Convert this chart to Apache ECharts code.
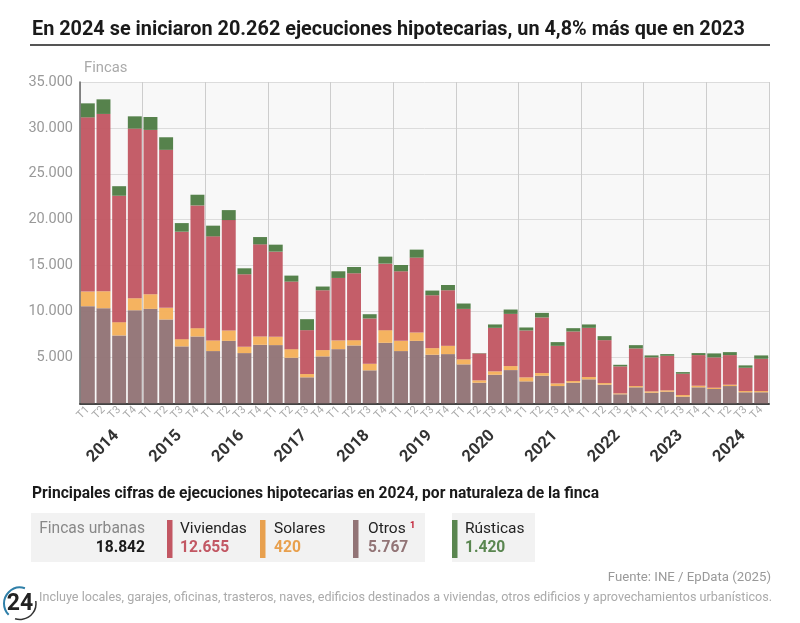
<!DOCTYPE html>
<html>
<head>
<meta charset="utf-8">
<style>
  html, body { margin: 0; padding: 0; background: #fff; }
  #chart { width: 800px; height: 623px; }
</style>
<script src="https://cdn.jsdelivr.net/npm/echarts@6/dist/echarts.min.js"></script>
</head>
<body>
<div id="chart"></div>
<script>
const years = ['2014', '2015', '2016', '2017', '2018', '2019', '2020', '2021', '2022', '2023', '2024'];
const quarters = years.flatMap(() => ['T1', 'T2', 'T3', 'T4']);

// Fincas por trimestre
const otros = [10580, 10360, 7390, 10140, 10290, 9130, 6200, 7280, 5690, 6800, 5470, 6370, 6340, 4960, 2830, 5110, 5900, 6300, 3590, 6590, 5690, 6800, 5290, 5360, 4240, 2240, 3110, 3620, 2390, 3000, 1880, 2240, 2610, 2030, 980, 1740, 1150, 1260, 720, 1740, 1560, 1880, 1200, 1200];
const solares = [1590, 1845, 1450, 1305, 1590, 1265, 790, 905, 1160, 1135, 685, 910, 900, 940, 355, 685, 950, 580, 715, 1380, 1115, 915, 720, 900, 545, 260, 370, 435, 435, 295, 290, 185, 250, 175, 105, 140, 150, 150, 180, 175, 135, 145, 135, 135];
const viviendas = [18980, 19315, 13770, 18480, 17900, 17215, 11705, 13370, 11335, 12025, 7900, 10035, 9280, 7360, 4785, 6520, 6805, 7285, 4935, 7245, 7575, 8155, 5760, 6055, 5500, 2935, 4740, 5685, 5110, 6055, 4090, 5400, 5360, 4675, 2935, 4100, 3700, 3765, 2320, 3335, 3305, 3225, 2535, 3515];
const rusticas = [1525, 1590, 1040, 1335, 1410, 1370, 935, 1165, 1165, 1085, 650, 795, 760, 650, 1195, 405, 725, 685, 465, 760, 685, 870, 510, 575, 585, 35, 370, 475, 325, 500, 405, 360, 370, 435, 175, 355, 215, 185, 180, 220, 435, 325, 260, 365];

const FONT = 'Roboto';
const colors = { otros: '#927476', solares: '#f5b05a', viviendas: '#c25763', rusticas: '#4f7d45' };

function bar(name, data, color) {
  return {
    name, type: 'bar', stack: 'total', data,
    barCategoryGap: '11%',
    itemStyle: { color, opacity: 0.96 },
    emphasis: { disabled: true }
  };
}

function label(x, y, text, fill, size, weight, align) {
  return {
    type: 'text', x, y,
    style: { text, fill, font: `${weight || 'normal'} ${size}px ${FONT}`, textAlign: align || 'left', textVerticalAlign: 'middle' }
  };
}

function panel(x, width) {
  return { type: 'rect', shape: { x, y: 513, width, height: 49 }, style: { fill: '#f2f2f2' } };
}

function swatch(x, fill) {
  return { type: 'rect', shape: { x, y: 520, width: 5.5, height: 38 }, style: { fill } };
}

const chart = echarts.init(document.getElementById('chart'), null, { renderer: 'canvas' });

chart.setOption({
  animation: false,
  textStyle: { fontFamily: FONT },
  grid: { left: 80, top: 82, width: 689, height: 321.3, show: true, backgroundColor: '#f8f8f8', borderWidth: 0 },
  xAxis: [
    {
      type: 'category', data: quarters, position: 'bottom',
      axisLine: { lineStyle: { color: '#444', width: 2 } },
      axisTick: { show: false },
      axisLabel: { interval: 0, rotate: 45, fontSize: 11, color: '#aaa', margin: 5 }
    },
    {
      type: 'category', data: years, position: 'bottom',
      axisLine: { show: false },
      axisTick: { show: false },
      splitLine: { show: true, interval: 0, lineStyle: { color: '#cdcdcd', width: 1 } },
      axisLabel: {
        interval: 0, rotate: 45, fontSize: 16.5, fontWeight: 'bold', color: '#333',
        align: 'center', verticalAlign: 'middle', margin: 35, padding: [0, 23, 0, 0]
      }
    }
  ],
  yAxis: {
    type: 'value', min: 0, max: 35000, interval: 5000,
    axisLine: { show: true, lineStyle: { color: '#666', width: 1.5 } },
    axisTick: { show: false },
    splitLine: { lineStyle: { color: '#dcdcdc', width: 1 } },
    axisLabel: {
      fontSize: 14.5, color: '#999', margin: 7,
      formatter: v => v === 0 ? '' : String(v).replace(/(\d)(\d{3})$/, '$1.$2')
    }
  },
  series: [
    bar('Otros', otros, colors.otros),
    bar('Solares', solares, colors.solares),
    bar('Viviendas', viviendas, colors.viviendas),
    bar('Rústicas', rusticas, colors.rusticas)
  ],
  graphic: [
    label(32, 30, 'En 2024 se iniciaron 20.262 ejecuciones hipotecarias, un 4,8% más que en 2023', '#1a1a1a', 19.85, 'bold'),
    { type: 'rect', shape: { x: 30, y: 44, width: 740, height: 2 }, style: { fill: '#555' } },
    label(84, 68, 'Fincas', '#aaa', 14.8),
    label(32, 494, 'Principales cifras de ejecuciones hipotecarias en 2024, por naturaleza de la finca', '#1a1a1a', 15.6, 'bold'),
    panel(31, 394),
    panel(452, 83),
    label(145, 529, 'Fincas urbanas', '#888', 15.6, 'normal', 'right'),
    label(145, 548, '18.842', '#1a1a1a', 15.6, 'bold', 'right'),
    swatch(167, '#c25763'),
    label(180, 529, 'Viviendas', '#222', 15.5),
    label(180, 548, '12.655', '#c25763', 15.6, 'bold'),
    swatch(260, '#e8a04e'),
    label(274, 529, 'Solares', '#222', 15.5),
    label(274, 548, '420', '#e8a04e', 15.6, 'bold'),
    swatch(353, '#927476'),
    label(368, 529, 'Otros', '#222', 15.5),
    label(410, 526, '1', '#c0172e', 9, 'bold'),
    label(368, 548, '5.767', '#927476', 15.6, 'bold'),
    swatch(452, '#5a8650'),
    label(465, 529, 'Rústicas', '#222', 15.5),
    label(465, 548, '1.420', '#5a8650', 15.6, 'bold'),
    label(771, 578, 'Fuente: INE / EpData (2025)', '#999', 13.2, 'normal', 'right'),
    label(39, 598, 'Incluye locales, garajes, oficinas, trasteros, naves, edificios destinados a viviendas, otros edificios y aprovechamientos urbanísticos.', '#aaa', 12.6),
    { type: 'arc', shape: { cx: 20, cy: 603.5, r: 16, startAngle: Math.PI * 0.75, endAngle: Math.PI * 1.6 }, style: { stroke: '#2f7fa8', fill: 'none', lineWidth: 2 } },
    { type: 'arc', shape: { cx: 20, cy: 603.5, r: 16, startAngle: Math.PI * 1.95, endAngle: Math.PI * 0.6 }, style: { stroke: '#333', fill: 'none', lineWidth: 1.5 } },
    label(20, 604, '24', '#222', 23, 'bold', 'center')
  ]
});
</script>
</body>
</html>
